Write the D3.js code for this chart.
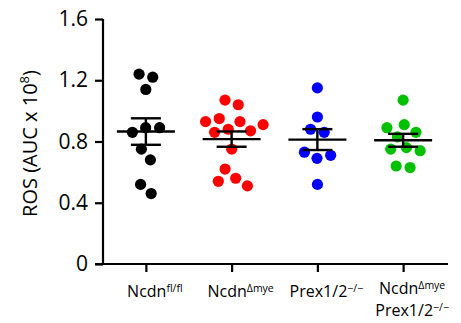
<!DOCTYPE html>
<html>
<head>
<meta charset="utf-8">
<script src="https://cdn.jsdelivr.net/npm/d3@7"></script>
<style>
  body { margin: 0; background: #fff; }
  text { font-family: "Open Sans", "Liberation Sans", sans-serif; fill: #000; }
</style>
</head>
<body>
<svg id="chart" width="461" height="323"></svg>
<script>
// groups, in plotting order
const groups = ["ncdnFl", "ncdnDmye", "prex", "ncdnDmyePrex"];
const groupColors = ["#000000", "#ff0000", "#0000ff", "#00c000"];

// ROS values (AUC x 10^8)
const ncdnFl = [1.24, 1.22, 1.14, 0.89, 0.86, 0.89, 0.75, 0.68, 0.52, 0.46];
const ncdnDmye = [1.07, 1.04, 0.95, 0.93, 0.93, 0.91, 0.88, 0.87, 0.86, 0.75, 0.62, 0.56, 0.54, 0.51];
const prex = [1.15, 0.96, 0.88, 0.86, 0.73, 0.71, 0.69, 0.52];
const ncdnDmyePrex = [1.07, 0.91, 0.89, 0.86, 0.83, 0.76, 0.75, 0.74, 0.64, 0.63];
const allValues = [ncdnFl, ncdnDmye, prex, ncdnDmyePrex];

const yTicks = [0, 0.4, 0.8, 1.2, 1.6];

// x labels: each line is a list of [text, isSuperscript]
const xLabels = [
  [[["Ncdn", false], ["fl/fl", true]]],
  [[["Ncdn", false], ["\u0394mye", true]]],
  [[["Prex1/2", false], ["\u2212/\u2212", true]]],
  [[["Ncdn", false], ["\u0394mye", true]], [["Prex1/2", false], ["\u2212/\u2212", true]]]
];

const svg = d3.select("#chart");
const mLeft = 103, mRight = 446, mTop = 19, mBottom = 264;

const x = d3.scalePoint().domain(groups).range([mLeft, mRight]).padding(0.5);
const y = d3.scaleLinear().domain([0, 1.6]).range([mBottom, mTop]);

// y axis
const yAxis = svg.append("g")
  .attr("transform", `translate(${mLeft},0)`)
  .call(d3.axisLeft(y).tickValues(yTicks).tickSize(8).tickPadding(7)
    .tickFormat(d => d === 0 ? "0" : d3.format(".1f")(d)));
yAxis.select(".domain").attr("d", `M0,${mTop}V${mBottom}`);

// x axis
const xAxis = svg.append("g")
  .attr("transform", `translate(0,${mBottom})`)
  .call(d3.axisBottom(x).tickSize(8).tickFormat(""));
xAxis.select(".domain").attr("d", `M${mLeft - 8},0H${mRight + 2}`);

svg.selectAll(".domain, .tick line").attr("stroke", "#000").attr("stroke-width", 2.2);
yAxis.selectAll("text").attr("font-size", 21).attr("fill", "#000");

// y axis title
const yTitle = svg.append("text")
  .attr("transform", `translate(37,${(mTop + mBottom) / 2 + 2}) rotate(-90)`)
  .attr("text-anchor", "middle")
  .attr("font-size", 20);
yTitle.append("tspan").text("ROS (AUC x 10");
yTitle.append("tspan").attr("font-size", 13).attr("dy", -8).text("8");
yTitle.append("tspan").attr("dy", 8).text(")");

// x labels (two-line label sits a little higher)
xLabels.forEach((lines, gi) => {
  const lx = x(groups[gi]) + 9;
  const y0 = lines.length > 1 ? 294 : 297;
  lines.forEach((parts, li) => {
    const t = svg.append("text")
      .attr("x", lx)
      .attr("y", y0 + li * 22)
      .attr("text-anchor", "middle")
      .attr("font-size", 16);
    let raised = false;
    parts.forEach(([s, sup]) => {
      const ts = t.append("tspan").text(s);
      if (sup && !raised) { ts.attr("font-size", 10.5).attr("dy", -5); raised = true; }
      else if (!sup && raised) { ts.attr("dy", 5); raised = false; }
    });
  });
});

// points: a small beeswarm, y fixed at the value, x pulled to the group centre
const r = 5.6;
const plot = svg.append("g");
allValues.forEach((vals, gi) => {
  const cx = x(groups[gi]);
  const nodes = vals.map((v, i) => ({ v: v, fy: y(v), y: y(v), x: cx + (i % 2 ? 1 : -1) * (i + 1) * 0.7 }));
  const sim = d3.forceSimulation(nodes)
    .force("x", d3.forceX(cx).strength(0.06))
    .force("collide", d3.forceCollide(r + 1.4).iterations(3))
    .stop();
  for (let i = 0; i < 300; i++) sim.tick();

  plot.append("g").selectAll("circle")
    .data(nodes)
    .join("circle")
    .attr("cx", d => d.x)
    .attr("cy", d => d.fy)
    .attr("r", r)
    .attr("fill", groupColors[gi]);
});

// mean and SEM
const stats = allValues.map((vals, gi) => {
  const m = d3.mean(vals);
  const sem = d3.deviation(vals) / Math.sqrt(vals.length);
  return { g: groups[gi], m: m, lo: m - sem, hi: m + sem };
});
const bars = svg.append("g").attr("stroke", "#000").attr("stroke-width", 2.4);
stats.forEach(s => {
  const cx = x(s.g);
  bars.append("line").attr("x1", cx - 29).attr("x2", cx + 29).attr("y1", y(s.m)).attr("y2", y(s.m));
  bars.append("line").attr("x1", cx).attr("x2", cx).attr("y1", y(s.hi)).attr("y2", y(s.lo));
  bars.append("line").attr("x1", cx - 15).attr("x2", cx + 15).attr("y1", y(s.hi)).attr("y2", y(s.hi));
  bars.append("line").attr("x1", cx - 15).attr("x2", cx + 15).attr("y1", y(s.lo)).attr("y2", y(s.lo));
});
</script>
</body>
</html>
